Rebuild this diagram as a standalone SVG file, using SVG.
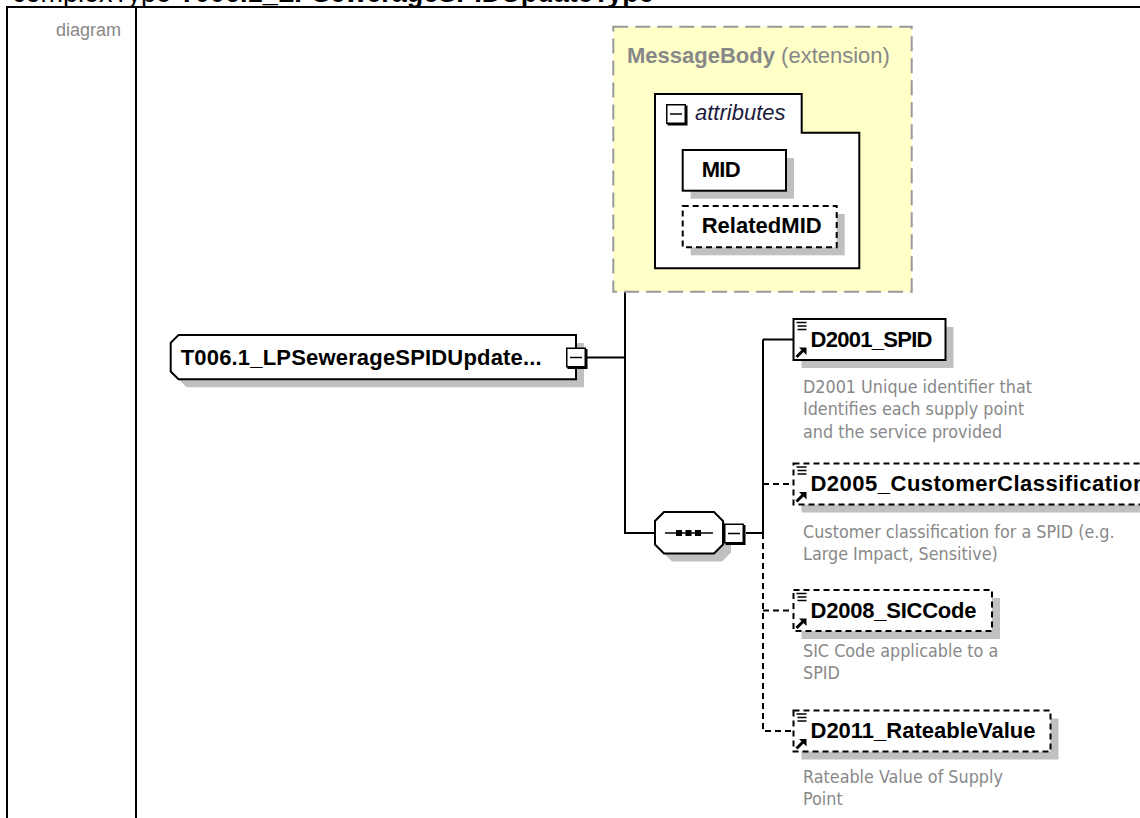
<svg xmlns="http://www.w3.org/2000/svg" xmlns:xlink="http://www.w3.org/1999/xlink" width="1140" height="818" viewBox="0 0 1140 818">
<style>
  .frame{stroke:#000;stroke-width:2;fill:none}
  .label{font-family:"Liberation Sans",Arial,sans-serif;font-weight:bold;font-size:22px;fill:#000}
  .desc{font-family:"DejaVu Sans Condensed","Noto Sans",sans-serif;font-size:17.8px;fill:#888}
  .box{fill:#fff;stroke:#000;stroke-width:2}
  .dbox{fill:#fff;stroke:#000;stroke-width:2;stroke-dasharray:6 4}
  .shadow{fill:#c0c0c0;stroke:none}
  .wire{stroke:#000;stroke-width:2;fill:none}
  .dwire{stroke:#000;stroke-width:2;fill:none;stroke-dasharray:6 4}
</style>
<defs>
  <g id="elemIcon">
    <path d="M3,3.5 H13 M4,7 H13 M4,10.5 H13" stroke="#000" stroke-width="1.6" fill="none"/>
    <path d="M3,38 L9.5,31.5" stroke="#000" stroke-width="3" fill="none"/>
    <polygon points="5.5,28.5 13,28.5 13,36" fill="#000"/>
  </g>
  <g id="minusBox">
    <rect x="0.75" y="0.75" width="18.5" height="18.5" fill="#fff" stroke="#000" stroke-width="1.5"/>
    <polyline points="20.5,1.5 20.5,20.5 1.5,20.5" fill="none" stroke="#000" stroke-width="2"/>
    <line x1="4" y1="10" x2="16" y2="10" stroke="#000" stroke-width="1.5"/>
  </g>
</defs>

<!-- header and table frame -->
<text x="12" y="1.5" font-family="Liberation Sans, Arial, sans-serif" font-size="27" fill="#000">complexType <tspan font-weight="bold">T006.1_LPSewerageSPIDUpdateType</tspan></text>
<path class="frame" d="M6,7 H1140 M7,7 V818 M136,7 V818"/>
<text x="121" y="36" text-anchor="end" font-family="Liberation Sans, Arial, sans-serif" font-size="18" fill="#888">diagram</text>

<g id="connectors">
  <path class="wire" d="M625,182 H655 M625,182 V533 H655 M587,357.5 H625 M746,533 H763 M763,339.5 V533 M763,339.5 H793.5"/>
  <path class="dwire" d="M763,533 V731 H793.5 M763,484 H793.5 M763,610.5 H793.5"/>
</g>

<g id="messagebody">
  <rect x="613.3" y="26.7" width="298.4" height="265" fill="#ffffc8" stroke="#999" stroke-width="2" stroke-dasharray="15 7"/>
  <text x="627" y="63" font-family="Liberation Sans, Arial, sans-serif" font-size="22" fill="#888"><tspan font-weight="bold">MessageBody</tspan> (extension)</text>
</g>

<g id="attributes">
  <path d="M655,94 H801.7 V132.7 H859.3 V268.3 H655 Z" fill="#fff" stroke="#000" stroke-width="2"/>
  <use xlink:href="#minusBox" x="666" y="104"/>
  <text x="695" y="120" font-family="Liberation Sans, Arial, sans-serif" font-style="italic" font-size="22" fill="#1c1c3c">attributes</text>
</g>

<g id="mid">
  <rect class="shadow" x="690.7" y="158" width="103.3" height="40.7"/>
  <rect class="box" x="682.7" y="150" width="103.3" height="40.7"/>
  <text class="label" x="701.7" y="176.7" textLength="39">MID</text>
</g>

<g id="relatedmid">
  <rect class="shadow" x="690.7" y="214" width="154" height="41.3"/>
  <rect class="dbox" x="682.7" y="206" width="154" height="41.3"/>
  <text class="label" x="701.7" y="233.3" textLength="120">RelatedMID</text>
</g>

<g id="t006">
  <polygon class="shadow" points="186.5,343 584,343 584,387.3 186.5,387.3 178.7,379.5 178.7,350.8"/>
  <polygon class="box" points="178.5,335 576,335 576,379.3 178.5,379.3 170.7,371.5 170.7,342.8"/>
  <text class="label" x="180.7" y="365" textLength="361">T006.1_LPSewerageSPIDUpdate...</text>
  <use xlink:href="#minusBox" x="566" y="347.5"/>
</g>

<g id="sequence">
  <polygon class="shadow" points="672,520 722,520 731,529 731,552.5 722,561.5 672,561.5 663,552.5 663,529"/>
  <polygon class="box" points="664,512 714,512 723,521 723,544.5 714,553.5 664,553.5 655,544.5 655,521"/>
  <line x1="665" y1="533" x2="713" y2="533" stroke="#000" stroke-width="1.5"/>
  <rect x="676" y="530" width="6" height="6" fill="#000"/>
  <rect x="685.5" y="530" width="6" height="6" fill="#000"/>
  <rect x="695" y="530" width="6" height="6" fill="#000"/>
  <use xlink:href="#minusBox" x="724" y="523.5"/>
</g>

<g id="d2001">
  <rect class="shadow" x="801.5" y="327" width="152" height="41"/>
  <rect class="box" x="793.5" y="319" width="152" height="41"/>
  <use xlink:href="#elemIcon" x="793.5" y="319"/>
  <text class="label" x="810.5" y="346.5" textLength="122">D2001_SPID</text>
  <text class="desc" x="803" y="393">D2001 Unique identifier that</text>
  <text class="desc" x="803" y="415.4">Identifies each supply point</text>
  <text class="desc" x="803" y="437.7">and the service provided</text>
</g>

<g id="d2005">
  <rect class="shadow" x="801.5" y="471.5" width="400" height="41"/>
  <rect class="dbox" x="793.5" y="463.5" width="400" height="41"/>
  <use xlink:href="#elemIcon" x="793.5" y="463.5"/>
  <text class="label" x="810.5" y="490.5" textLength="336">D2005_CustomerClassification</text>
  <text class="desc" x="803" y="537.8">Customer classification for a SPID (e.g.</text>
  <text class="desc" x="803" y="559.5">Large Impact, Sensitive)</text>
</g>

<g id="d2008">
  <rect class="shadow" x="801.5" y="598" width="198.5" height="41"/>
  <rect class="dbox" x="793.5" y="590" width="198.5" height="41"/>
  <use xlink:href="#elemIcon" x="793.5" y="590"/>
  <text class="label" x="810.5" y="617.5" textLength="166">D2008_SICCode</text>
  <text class="desc" x="803" y="656.5">SIC Code applicable to a</text>
  <text class="desc" x="803" y="678.6">SPID</text>
</g>

<g id="d2011">
  <rect class="shadow" x="801.5" y="718.5" width="257" height="41"/>
  <rect class="dbox" x="793.5" y="710.5" width="257" height="41"/>
  <use xlink:href="#elemIcon" x="793.5" y="710.5"/>
  <text class="label" x="810.5" y="738" textLength="225">D2011_RateableValue</text>
  <text class="desc" x="803" y="782.9">Rateable Value of Supply</text>
  <text class="desc" x="803" y="804.6">Point</text>
</g>
</svg>
